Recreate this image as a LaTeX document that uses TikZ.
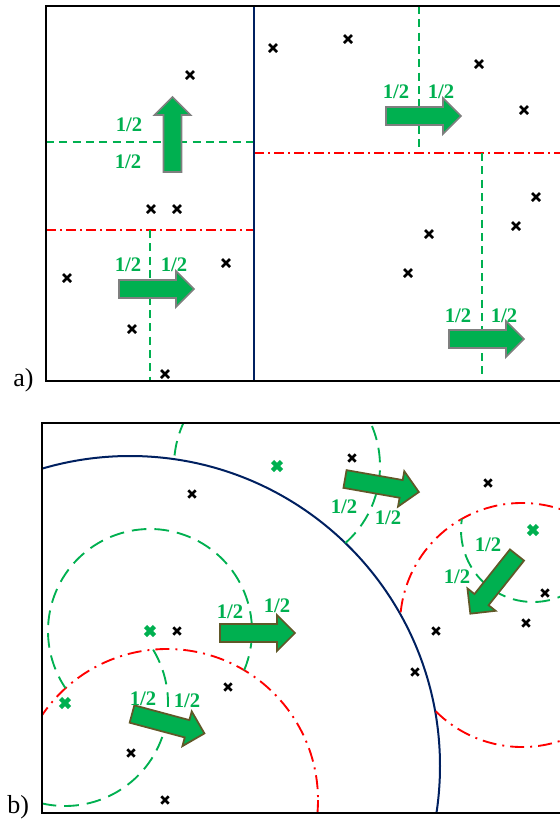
\documentclass[tikz,border=0pt]{standalone}
\usepackage{fontspec}
\setmainfont{Liberation Serif}
\definecolor{HalfGreen}{RGB}{0,176,80}
\definecolor{CutRed}{RGB}{255,0,0}
\definecolor{CutBlue}{RGB}{0,32,96}
\definecolor{ArrowGray}{RGB}{127,127,127}
\definecolor{ArrowOlive}{RGB}{96,88,40}

\begin{document}
\begin{tikzpicture}[
x=0.75pt,y=-0.75pt,
frame/.style={draw=black,line width=1.8pt},
root/.style={draw=CutBlue,line width=1.1pt},
half/.style={draw=HalfGreen,line width=1.1pt,dash pattern=on 6pt off 4pt},
split/.style={draw=CutRed,line width=1.1pt,dash pattern=on 7.5pt off 3pt on 1.5pt off 3pt},
halfb/.style={draw=HalfGreen,line width=1.4pt,dash pattern=on 11pt off 6pt},
splitb/.style={draw=CutRed,line width=1.4pt,dash pattern=on 10.5pt off 4.5pt on 1.5pt off 4.5pt},
move/.style={fill=HalfGreen,line width=1.3pt,line join=miter},
movea/.style={move,draw=ArrowGray},
moveb/.style={move,draw=ArrowOlive},
halfarrow/.pic={\draw[#1] (0,-9)--(57,-9)--(57,-18)--(75,0)--(57,18)--(57,9)--(0,9)--cycle;},
frac/.style={text=HalfGreen,font=\bfseries\fontsize{15.5}{15.5}\selectfont,inner sep=0pt},
tag/.style={font=\fontsize{19.5}{20}\selectfont,inner sep=0pt,anchor=base west},
pt/.style={draw=black,line width=2.1pt},
centre/.style={draw=HalfGreen,line width=3.4pt}
]
\clip (0,0) rectangle (560,819);

% a) rectangular splits
\draw[half] (46,142) -- (254,142);
\draw[split] (46,230) -- (254,230);
\draw[half] (150,230) -- (150,381);
\draw[half] (419,6) -- (419,153);
\draw[split] (254,153) -- (560,153);
\draw[half] (482,153) -- (482,381);
\draw[root] (254,6) -- (254,381);
\draw[frame] (46,6) rectangle (566,381);

\foreach \x/\y in {190/75,151/209,177/209,226/263,67/278,132/329,165/374,273/48,348/39,479/64,524/110,536/197,516/226,429/234,408/273}
  \draw[pt] (\x-4,\y-4) -- (\x+4,\y+4) (\x-4,\y+4) -- (\x+4,\y-4);

\pic[rotate=90] at (172.5,172) {halfarrow=movea};
\pic at (119,289) {halfarrow=movea};
\pic at (386,116) {halfarrow=movea};
\pic at (449,339) {halfarrow=movea};

\node[frac] (a1) at (129,125) {1/2};
\node[frac] (a2) at (128,162) {1/2};
\node[frac] (a3) at (128,265) {1/2};
\node[frac] (a4) at (174,265) {1/2};
\node[frac] (a5) at (396,92) {1/2};
\node[frac] (a6) at (441,92) {1/2};
\node[frac] (a7) at (458,316) {1/2};
\node[frac] (a8) at (504,316) {1/2};
\node[tag] (ta) at (13,386) {a)};

% b) ball splits
\begin{scope}
\clip (42,423) rectangle (560,813);
\draw[root,line width=1.5pt] (130,766) circle[radius=310];
\draw[splitb] (167,800) circle[radius=151];
\draw[splitb] (522,625) ++(186:122) arc[start angle=186,end angle=495,radius=122];
\draw[halfb] (277,466) ++(48.4:103) arc[start angle=48.4,end angle=-176.2,radius=103];
\draw[halfb] (150,631) ++(22.6:102) arc[start angle=22.6,end angle=-214.1,radius=102];
\draw[halfb] (65,703) ++(-31.2:103) arc[start angle=-31.2,end angle=118.3,radius=103];
\draw[halfb] (533,530) ++(4.3:72) arc[start angle=4.3,end angle=188.9,radius=72];
\end{scope}
\draw[frame] (42,423) rectangle (566,813);

\foreach \x/\y in {192/494,352/458,488/483,545/593,177/631,228/687,131/753,165/800,436/631,415/672,526/623}
  \draw[pt] (\x-3.7,\y-3.7) -- (\x+3.7,\y+3.7) (\x-3.7,\y+3.7) -- (\x+3.7,\y-3.7);
\foreach \x/\y in {277/466,150/631,65/703,533/530}
  \draw[centre] (\x-4.5,\y-4.5) -- (\x+4.5,\y+4.5) (\x-4.5,\y+4.5) -- (\x+4.5,\y-4.5);

\pic[rotate=-10] at (345,479) {halfarrow=moveb};
\pic at (220,633) {halfarrow=moveb};
\pic[rotate=-15] at (132,714) {halfarrow=moveb};
\pic[rotate=-128.5] at (517,555) {halfarrow=moveb};

\node[frac] (b1) at (344,507) {1/2};
\node[frac] (b2) at (388,518) {1/2};
\node[frac] (b3) at (488,545) {1/2};
\node[frac] (b4) at (457,577) {1/2};
\node[frac] (b5) at (230,612) {1/2};
\node[frac] (b6) at (277,606) {1/2};
\node[frac] (b7) at (143,699) {1/2};
\node[frac] (b8) at (187,701) {1/2};
\node[tag] (tb) at (7,813) {b)};
\end{tikzpicture}
\end{document}
